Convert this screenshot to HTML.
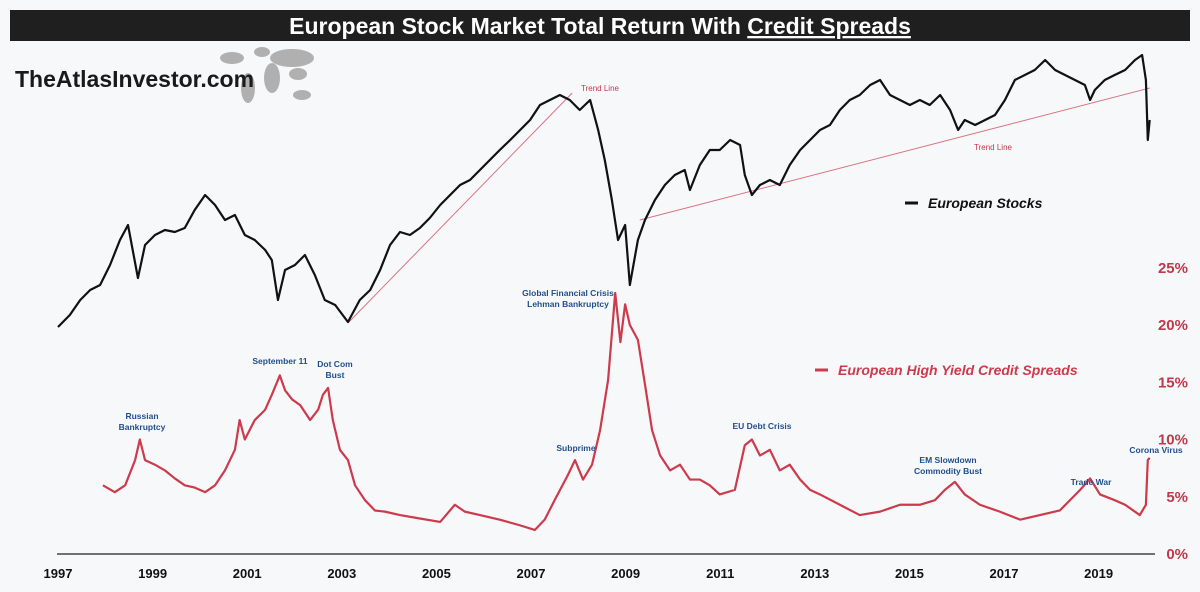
<!DOCTYPE html>
<html><head><meta charset="utf-8"><style>
html,body{margin:0;padding:0;background:#f7f8fa;}
body{width:1200px;height:587px;overflow:hidden;font-family:"Liberation Sans",sans-serif;}
</style></head><body>
<svg id="chart" width="1200" height="587" viewBox="0 0 1200 587" xmlns="http://www.w3.org/2000/svg">
<rect width="1200" height="587" fill="#f7f8fa"/>
<rect x="10" y="10" width="1180" height="31" fill="#1f1f1f"/>
<text x="600" y="34" text-anchor="middle" font-size="23" font-weight="bold" fill="#fff">European Stock Market Total Return With <tspan text-decoration="underline">Credit Spreads</tspan></text>
<g fill="#b0b0b0">
<ellipse cx="232" cy="58" rx="12" ry="6"/><ellipse cx="248" cy="88" rx="7" ry="15"/><ellipse cx="262" cy="52" rx="8" ry="5"/>
<ellipse cx="272" cy="78" rx="8" ry="15"/><ellipse cx="292" cy="58" rx="22" ry="9"/><ellipse cx="298" cy="74" rx="9" ry="6"/><ellipse cx="302" cy="95" rx="9" ry="5"/>
</g>
<text x="15" y="87" font-size="23" font-weight="bold" fill="#1a1a1a">TheAtlasInvestor.com</text>
<line x1="57" y1="554" x2="1155" y2="554" stroke="#444" stroke-width="1.5"/>
<g id="xticks"></g><g id="yticks"></g>
<g id="series"></g>
<g>
<line x1="905" y1="203" x2="918" y2="203" stroke="#111" stroke-width="3"/>
<text x="928" y="208" font-size="14" font-weight="bold" font-style="italic" fill="#111">European Stocks</text></g>
<g>
<line x1="815" y1="370" x2="828" y2="370" stroke="#cc3a4b" stroke-width="3"/>
<text x="838" y="375" font-size="14" font-weight="bold" font-style="italic" fill="#cc3a4b">European High Yield Credit Spreads</text></g>
<g font-size="8.5" font-weight="bold" fill="#1f4e8c" text-anchor="middle">
<text x="142" y="419">Russian</text>
<text x="142" y="430">Bankruptcy</text>
<text x="280" y="364">September 11</text>
<text x="335" y="367">Dot Com</text>
<text x="335" y="378">Bust</text>
<text x="568" y="296">Global Financial Crisis</text>
<text x="568" y="307">Lehman Bankruptcy</text>
<text x="576" y="451">Subprime</text>
<text x="762" y="429">EU Debt Crisis</text>
<text x="948" y="463">EM Slowdown</text>
<text x="948" y="474">Commodity Bust</text>
<text x="1091" y="485">Trade War</text>
<text x="1156" y="453">Corona Virus</text>
</g>
<text x="600" y="91" text-anchor="middle" font-size="8" fill="#c0394b">Trend Line</text>
<text x="993" y="150" text-anchor="middle" font-size="8" fill="#c0394b">Trend Line</text>
</svg>
<script>
const xTickYears=[1997,1999,2001,2003,2005,2007,2009,2011,2013,2015,2017,2019];
const yTickPcts=[0,5,10,15,20,25];
const stockYears=[0,0.25,0.47,0.68,0.89,1.10,1.31,1.48,1.69,1.84,2.05,2.26,2.47,2.68,2.89,3.11,3.32,3.53,3.74,3.95,4.16,4.38,4.52,4.65,4.80,5.01,5.22,5.43,5.64,5.86,6.13,6.38,6.60,6.81,7.02,7.23,7.44,7.65,7.86,8.08,8.29,8.50,8.71,8.92,9.13,9.34,9.56,9.77,9.98,10.19,10.40,10.61,10.82,11.03,11.25,11.42,11.56,11.71,11.84,11.99,12.09,12.26,12.41,12.62,12.83,13.04,13.25,13.36,13.57,13.78,13.99,14.21,14.42,14.52,14.67,14.84,15.05,15.26,15.47,15.69,15.90,16.11,16.32,16.53,16.74,16.95,17.17,17.38,17.59,17.80,18.01,18.22,18.43,18.65,18.86,19.03,19.17,19.39,19.60,19.81,20.02,20.23,20.44,20.65,20.87,21.08,21.29,21.50,21.71,21.82,21.92,22.13,22.34,22.56,22.77,22.92,23.00,23.04,23.08];
const stockLevels=[13,25,40,50,55,75,100,115,62,95,105,110,108,112,130,145,135,120,125,105,100,90,80,40,70,75,85,65,40,35,18,40,50,70,95,108,105,112,122,135,145,155,160,170,180,190,200,210,220,235,240,245,240,230,240,210,180,140,100,115,55,100,120,140,155,165,170,150,175,190,190,200,195,165,145,155,160,155,175,190,200,210,215,230,240,245,255,260,245,240,235,240,235,245,230,210,220,215,220,225,240,260,265,270,280,270,265,260,255,240,250,260,265,270,280,285,260,200,220];
const spreadYears=[0.95,1.20,1.42,1.63,1.73,1.84,2.05,2.26,2.47,2.68,2.89,3.11,3.32,3.53,3.74,3.84,3.95,4.16,4.38,4.52,4.69,4.80,4.95,5.12,5.33,5.50,5.60,5.71,5.81,5.96,6.13,6.28,6.49,6.70,6.91,7.23,7.65,8.08,8.39,8.60,8.92,9.34,9.77,10.08,10.29,10.50,10.78,10.93,11.10,11.29,11.46,11.63,11.78,11.89,11.99,12.09,12.26,12.41,12.56,12.73,12.94,13.15,13.36,13.57,13.78,13.99,14.31,14.52,14.67,14.84,15.05,15.26,15.47,15.69,15.90,16.11,16.53,16.95,17.38,17.80,18.22,18.54,18.75,18.96,19.17,19.49,19.91,20.34,20.76,21.18,21.61,21.82,22.03,22.34,22.56,22.87,23.00,23.04,23.08];
const spreadPcts=[6.0,5.4,6.0,8.2,10.0,8.2,7.8,7.3,6.6,6.0,5.8,5.4,6.0,7.3,9.1,11.7,10.0,11.7,12.6,13.9,15.6,14.3,13.5,13.0,11.7,12.6,13.9,14.5,11.7,9.1,8.2,6.0,4.7,3.8,3.7,3.4,3.1,2.8,4.3,3.7,3.4,3.0,2.5,2.1,3.0,4.7,6.9,8.2,6.5,7.8,10.8,15.2,22.8,18.5,21.8,20.0,18.7,14.8,10.8,8.6,7.3,7.8,6.5,6.5,6.0,5.2,5.6,9.5,10.0,8.6,9.1,7.3,7.8,6.5,5.6,5.2,4.3,3.4,3.7,4.3,4.3,4.7,5.6,6.3,5.2,4.3,3.7,3.0,3.4,3.8,5.6,6.6,5.2,4.7,4.3,3.4,4.3,8.2,8.4];
const trend1Years=[6.13,10.87];const trend1Levels=[17,247];
const trend2Years=[12.30,23.08];const trend2Levels=[120,252];
const X=y=>58+y*47.3;
const YS=v=>340-v;
const YP=p=>554-p*11.45;
const NS='http://www.w3.org/2000/svg';
function mk(tag,attrs,parent){const e=document.createElementNS(NS,tag);for(const k in attrs)e.setAttribute(k,attrs[k]);parent.appendChild(e);return e;}
const xt=document.getElementById('xticks');
xTickYears.forEach(yr=>{const t=mk('text',{x:X(yr-1997),y:578,'text-anchor':'middle','font-size':13,'font-weight':'bold',fill:'#111'},xt);


t.textContent=yr;});
const yt=document.getElementById('yticks');
yTickPcts.forEach(p=>{const t=mk('text',{x:1188,y:YP(p)+5,'text-anchor':'end','font-size':15,'font-weight':'bold',fill:'#c0394b'},yt);


t.textContent=p+'%';});
const s=document.getElementById('series');
const tr1=mk('line',{x1:X(trend1Years[0]),y1:YS(trend1Levels[0]),x2:X(trend1Years[1]),y2:YS(trend1Levels[1]),stroke:'#d9737f','stroke-width':1},s);


const tr2=mk('line',{x1:X(trend2Years[0]),y1:YS(trend2Levels[0]),x2:X(trend2Years[1]),y2:YS(trend2Levels[1]),stroke:'#d9737f','stroke-width':1},s);


const sp=mk('polyline',{points:stockYears.map((y,i)=>X(y)+','+YS(stockLevels[i])).join(' '),fill:'none',stroke:'#111','stroke-width':2.2,'stroke-linejoin':'round'},s);


const cp=mk('polyline',{points:spreadYears.map((y,i)=>X(y)+','+YP(spreadPcts[i])).join(' '),fill:'none',stroke:'#cc3a4b','stroke-width':2.2,'stroke-linejoin':'round'},s);


</script>
</body></html>
